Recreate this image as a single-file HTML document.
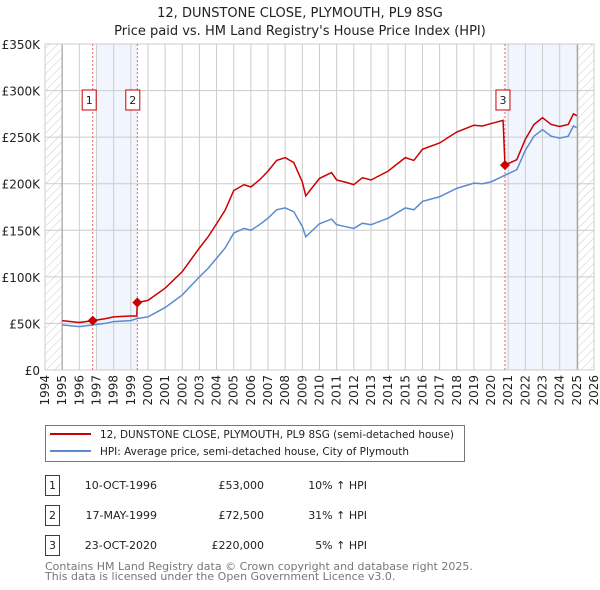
<!DOCTYPE html>
<html><head><meta charset="utf-8"><style>
body{margin:0;background:#fff;font-family:"DejaVu Sans","Liberation Sans",sans-serif;}
#wrap{position:relative;width:600px;height:590px;overflow:hidden;}
</style></head><body>
<div id="wrap">
<svg id="chart" width="600" height="590" style="position:absolute;left:0;top:0">
<defs><pattern id="hatch" width="6" height="6" patternUnits="userSpaceOnUse" patternTransform="rotate(45)"><line x1="0" y1="0" x2="0" y2="6" stroke="#ccc" stroke-width="1"/></pattern></defs>
<text x="300" y="17" text-anchor="middle" font-size="13" fill="#222">12, DUNSTONE CLOSE, PLYMOUTH, PL9 8SG</text>
<text x="300" y="35" text-anchor="middle" font-size="13" fill="#222">Price paid vs. HM Land Registry's House Price Index (HPI)</text>
<g id="plot"></g>
</svg>
<svg width="600" height="590" style="position:absolute;left:0;top:0">
<rect x="45.5" y="425.5" width="419" height="36" fill="#fff" stroke="#777"/>
<line x1="50" y1="434" x2="91" y2="434" stroke="#cc0000" stroke-width="2"/>
<text x="100" y="438" font-size="10.5" textLength="354" lengthAdjust="spacingAndGlyphs" fill="#222">12, DUNSTONE CLOSE, PLYMOUTH, PL9 8SG (semi-detached house)</text>
<line x1="50" y1="451" x2="91" y2="451" stroke="#5b8bd0" stroke-width="2"/>
<text x="100" y="455" font-size="10.5" textLength="309" lengthAdjust="spacingAndGlyphs" fill="#222">HPI: Average price, semi-detached house, City of Plymouth</text>
<g font-size="11" fill="#222">
<rect x="45.5" y="475.5" width="14" height="20" fill="none" stroke="#cc0000"/><text x="52.5" y="489" text-anchor="middle">1</text>
<text x="157" y="489" text-anchor="end">10-OCT-1996</text>
<text x="264" y="489" text-anchor="end">£53,000</text>
<text x="367" y="489" text-anchor="end">10% ↑ HPI</text>
<rect x="45.5" y="505.5" width="14" height="20" fill="none" stroke="#cc0000"/><text x="52.5" y="519" text-anchor="middle">2</text>
<text x="157" y="519" text-anchor="end">17-MAY-1999</text>
<text x="264" y="519" text-anchor="end">£72,500</text>
<text x="367" y="519" text-anchor="end">31% ↑ HPI</text>
<rect x="45.5" y="535.5" width="14" height="20" fill="none" stroke="#cc0000"/><text x="52.5" y="549" text-anchor="middle">3</text>
<text x="157" y="549" text-anchor="end">23-OCT-2020</text>
<text x="264" y="549" text-anchor="end">£220,000</text>
<text x="367" y="549" text-anchor="end">5% ↑ HPI</text>
</g>
<text x="45" y="570" font-size="11" fill="#777">Contains HM Land Registry data © Crown copyright and database right 2025.</text>
<text x="45" y="580" font-size="11" fill="#777">This data is licensed under the Open Government Licence v3.0.</text>
</svg>
</div>
<script>
const yTicks=[0,50,100,150,200,250,300,350];
const yTickLabels=["£0","£50K","£100K","£150K","£200K","£250K","£300K","£350K"];
const xTicks=[1994,1995,1996,1997,1998,1999,2000,2001,2002,2003,2004,2005,2006,2007,2008,2009,2010,2011,2012,2013,2014,2015,2016,2017,2018,2019,2020,2021,2022,2023,2024,2025,2026];
const hpiYears=[1995,1996,1996.78,1997.5,1998,1999,1999.38,2000,2001,2002,2003,2003.5,2004,2004.5,2005,2005.6,2006,2006.5,2007,2007.5,2008,2008.5,2009,2009.2,2010,2010.7,2011,2011.5,2012,2012.5,2013,2014,2015,2015.5,2016,2017,2018,2019,2019.5,2020,2020.8,2021.5,2022,2022.5,2023,2023.5,2024,2024.5,2024.8,2025];
const hpiValues=[48.4,46.6,48.4,50,52,53,55.3,57,67,80.6,100,109,120,131,147,152,150,156,163,172,174,170,154,143,157,162,156,154,152,157.6,156,163,174,172,181,186,195,200.6,200,202,209,215,236,251,258,251,249,251,262,260];
const priceYears=[1995,1996,1996.78,1997.5,1998,1999,1999.35,1999.38,2000,2001,2002,2003,2003.5,2004,2004.5,2005,2005.6,2006,2006.5,2007,2007.5,2008,2008.5,2009,2009.2,2010,2010.7,2011,2011.5,2012,2012.5,2013,2014,2015,2015.5,2016,2017,2018,2019,2019.5,2020,2020.7,2020.81,2021.5,2022,2022.5,2023,2023.5,2024,2024.5,2024.8,2025];
const priceValues=[53,51,53,55,57,58,58,72.5,74.7,87.8,105.6,131,142.8,157,171.6,192.6,199,196.5,204,213.5,225,228,222.7,201.7,187,205.7,212,204,201.7,199,206.5,204,213.5,228,225,237,243.7,255.5,262.8,262,264.6,268,220,225.8,247.8,263.6,270.9,263.6,261.5,263.6,275,273];
const saleYears=[1996.78,1999.38,2020.81];
const salePrices=[53,72.5,220];
const saleLabels=["1","2","3"];

const X0=45,X1=594,Y0=370,Y1=44,XMIN=1994,XMAX=2026,YMAX=350;
const sx=v=>X0+(v-XMIN)/(XMAX-XMIN)*(X1-X0);
const sy=v=>Y0-v/YMAX*(Y0-Y1);
const NS="http://www.w3.org/2000/svg";
const g=document.getElementById('plot');
function mk(tag,attrs){const e=document.createElementNS(NS,tag);for(const k in attrs)e.setAttribute(k,attrs[k]);g.appendChild(e);return e;}
let e;
e=mk('rect',{x:X0,y:Y1,width:X1-X0,height:Y0-Y1,fill:'#fff'});


e=mk('rect',{x:sx(1997),y:Y1,width:sx(saleYears[1])-sx(1997),height:Y0-Y1,fill:'#eef3fc',opacity:0.8});


e=mk('rect',{x:sx(saleYears[2]),y:Y1,width:sx(2025.05)-sx(saleYears[2]),height:Y0-Y1,fill:'#eef3fc',opacity:0.8});


e=mk('rect',{x:X0,y:Y1,width:sx(1995)-X0,height:Y0-Y1,fill:'url(#hatch)'});


e=mk('rect',{x:sx(2025.05),y:Y1,width:X1-sx(2025.05),height:Y0-Y1,fill:'url(#hatch)'});


xTicks.forEach((t)=>{
  e=mk('line',{x1:sx(t),x2:sx(t),y1:Y1,y2:Y0,stroke:'#ccc','stroke-width':1});
  
  
  e=mk('text',{x:0,y:0,transform:`translate(${sx(t)+4},${Y0+5}) rotate(-90)`,'text-anchor':'end','font-size':12,fill:'#222'});
  e.textContent=t;
  
  
});
yTicks.forEach((t,i)=>{
  e=mk('line',{x1:X0,x2:X1,y1:sy(t),y2:sy(t),stroke:'#ccc','stroke-width':1});
  
  
  e=mk('text',{x:40,y:sy(t)+5,'text-anchor':'end','font-size':12,fill:'#222'});
  e.textContent=yTickLabels[i];
  
  
});
e=mk('line',{x1:sx(1995),x2:sx(1995),y1:Y1,y2:Y0,stroke:'#999','stroke-width':1});


e=mk('line',{x1:sx(2025.05),x2:sx(2025.05),y1:Y1,y2:Y0,stroke:'#999','stroke-width':1});


e=mk('rect',{x:X0,y:Y1,width:X1-X0,height:Y0-Y1,fill:'none',stroke:'#ccc'});


saleYears.forEach((s,i)=>{
  e=mk('line',{x1:sx(s),x2:sx(s),y1:Y1,y2:Y0,stroke:'#f06060','stroke-width':1,'stroke-dasharray':'2,2'});
  
  
});
e=mk('polyline',{points:hpiYears.map((y,i)=>sx(y)+','+sy(hpiValues[i])).join(' '),fill:'none',stroke:'#5b8bd0','stroke-width':1.5});


e=mk('polyline',{points:priceYears.map((y,i)=>sx(y)+','+sy(priceValues[i])).join(' '),fill:'none',stroke:'#cc0000','stroke-width':1.5});


saleYears.forEach((s,i)=>{
  const cx=sx(s),cy=sy(salePrices[i]);
  e=mk('polygon',{points:`${cx},${cy-5} ${cx+5},${cy} ${cx},${cy+5} ${cx-5},${cy}`,fill:'#cc0000'});
  
  
  const bx=cx-(i===0?3.5:(i===1?4.5:2));
  e=mk('rect',{x:bx-7,y:90,width:14,height:20,fill:'#fff',stroke:'#cc0000'});
  
  
  e=mk('text',{x:bx,y:104,'text-anchor':'middle','font-size':11,fill:'#222'});
  e.textContent=saleLabels[i];
  
  
});
</script>
</body></html>
